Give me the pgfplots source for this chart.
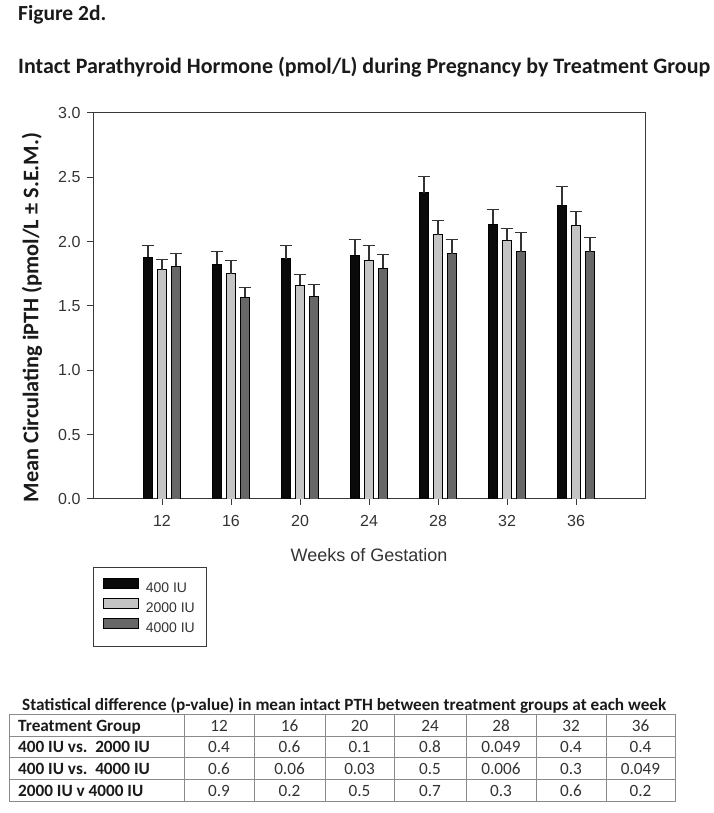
\documentclass[border=0pt]{standalone}
\usepackage{fontspec}
\setmainfont{Carlito}
\newfontfamily\arial{Liberation Sans}
\usepackage{pgfplots}
\usepackage{pgfplotstable}
\pgfplotsset{compat=1.18}

\definecolor{cA}{HTML}{0A0A0A}
\definecolor{cB}{HTML}{C4C4C4}
\definecolor{cC}{HTML}{676767}
\definecolor{axisgray}{HTML}{3A3A3A}
\definecolor{labelgray}{HTML}{333333}
\definecolor{errgray}{HTML}{333333}
\definecolor{tablegray}{HTML}{8A8A8A}
\definecolor{titlecol}{HTML}{1A1A1A}

\pgfplotsset{barleg/.style={legend image code/.code={\draw[##1] (0pt,0pt) rectangle (35pt,10pt);}}}

\pgfplotstableread{
w m e
12 1.880 0.093
16 1.823 0.101
20 1.869 0.099
24 1.895 0.122
28 2.380 0.125
32 2.134 0.117
36 2.284 0.148
}\dataA
\pgfplotstableread{
w m e
12 1.781 0.083
16 1.750 0.101
20 1.662 0.080
24 1.857 0.111
28 2.054 0.111
32 2.010 0.095
36 2.126 0.109
}\dataB
\pgfplotstableread{
w m e
12 1.807 0.101
16 1.569 0.077
20 1.574 0.096
24 1.792 0.109
28 1.906 0.111
32 1.921 0.153
36 1.921 0.112
}\dataC

\newcommand\cellfont{\fontsize{17.2}{20}\selectfont}
\newcommand\cell[3]{\node[anchor=base, inner sep=0pt, font=\cellfont, text=labelgray] at (#1,#2) {#3};}
\newcommand\rowhead[2]{\node[anchor=base west, inner sep=0pt, font=\bfseries\cellfont, text=titlecol] at (18,#1) {#2};}

\begin{document}
\begin{tikzpicture}[x=1pt,y=1pt]
\useasboundingbox (0,0) rectangle (714,813);
\node[anchor=base west, inner sep=0pt, font=\bfseries\fontsize{21.5}{24}\selectfont, text=titlecol] at (18,792.3) {Figure 2d.};
\node[anchor=base west, inner sep=0pt, font=\bfseries\fontsize{22}{25}\selectfont, text=titlecol] at (18,739) {Intact Parathyroid Hormone (pmol/L) during Pregnancy by Treatment Group};

\begin{axis}[
  at={(93pt,314pt)}, anchor=south west,
  scale only axis, width=552pt, height=386pt,
  xmin=8, xmax=40, ymin=0, ymax=3,
  xtick={12,16,20,24,28,32,36},
  ytick={0,0.5,1,1.5,2,2.5,3},
  ybar, bar width=9pt,
  tick align=outside, xtick pos=bottom, ytick pos=left,
  major tick length=6pt,
  axis line style={draw=axisgray, line width=1pt},
  every tick/.style={draw=axisgray, line width=1pt},
  tick label style={font=\arial\fontsize{16}{18}\selectfont, text=labelgray},
  /pgf/number format/assume math mode=true,
  y tick label style={xshift=-3pt, /pgf/number format/.cd, fixed, fixed zerofill, precision=1, /tikz/.cd},
  x tick label style={yshift=-7pt},
  xlabel={Weeks of Gestation},
  xlabel style={font=\arial\fontsize{18}{21}\selectfont, text=labelgray, at={(axis description cs:0.5,-0.145)}, anchor=center},
  ylabel={Mean Circulating iPTH (pmol/L ± S.E.M.)},
  ylabel style={font=\bfseries\fontsize{22.3}{25}\selectfont, text=titlecol, at={(axis description cs:-0.1105,0.47)}, anchor=center},
  legend style={at={(0,-0.176)}, anchor=north west, draw=axisgray, line width=1pt,
    font=\arial\fontsize{14}{16}\selectfont, text=labelgray,
    inner xsep=9.5pt, inner ysep=11pt, row sep=1.5pt,
    /tikz/every odd column/.append style={column sep=5pt}},
  legend cell align=left,
]
\addplot[fill=cA, draw=black, line width=0.8pt, bar shift=-14pt, barleg,
  error bars/.cd, y dir=plus, y explicit,
  error bar style={line width=1.1pt, draw=errgray},
  error mark options={rotate=90, line width=1.1pt, draw=errgray, mark size=6.3pt}]
  table[x=w, y=m, y error=e] {\dataA};
\addlegendentry{400 IU}
\addplot[fill=cB, draw=black, line width=0.8pt, bar shift=0pt, barleg,
  error bars/.cd, y dir=plus, y explicit,
  error bar style={line width=1.1pt, draw=errgray},
  error mark options={rotate=90, line width=1.1pt, draw=errgray, mark size=6.3pt}]
  table[x=w, y=m, y error=e] {\dataB};
\addlegendentry{2000 IU}
\addplot[fill=cC, draw=black, line width=0.8pt, bar shift=14pt, barleg,
  error bars/.cd, y dir=plus, y explicit,
  error bar style={line width=1.1pt, draw=errgray},
  error mark options={rotate=90, line width=1.1pt, draw=errgray, mark size=6.3pt}]
  table[x=w, y=m, y error=e] {\dataC};
\addlegendentry{4000 IU}
\end{axis}

% p-value table
\node[anchor=base west, inner sep=0pt, font=\bfseries\cellfont, text=titlecol] at (22,102.5) {Statistical difference (p-value) in mean intact PTH between treatment groups at each week};
\draw[tablegray, line width=1pt] (9,11) rectangle (675,98);
\foreach \yy in {76,55,33} \draw[tablegray, line width=1pt] (9,\yy) -- (675,\yy);
\foreach \xx in {184,254,325,394,466,536,606} \draw[tablegray, line width=1pt] (\xx,11) -- (\xx,98);

\rowhead{81.5}{Treatment Group}
\cell{219}{81.5}{12}\cell{289.5}{81.5}{16}\cell{359.5}{81.5}{20}\cell{430}{81.5}{24}\cell{501}{81.5}{28}\cell{571}{81.5}{32}\cell{640.5}{81.5}{36}

\rowhead{60}{400 IU vs.\ \ 2000 IU}
\cell{219}{60}{0.4}\cell{289.5}{60}{0.6}\cell{359.5}{60}{0.1}\cell{430}{60}{0.8}\cell{501}{60}{0.049}\cell{571}{60}{0.4}\cell{640.5}{60}{0.4}

\rowhead{38.5}{400 IU vs.\ \ 4000 IU}
\cell{219}{38.5}{0.6}\cell{289.5}{38.5}{0.06}\cell{359.5}{38.5}{0.03}\cell{430}{38.5}{0.5}\cell{501}{38.5}{0.006}\cell{571}{38.5}{0.3}\cell{640.5}{38.5}{0.049}

\rowhead{16.5}{2000 IU v 4000 IU}
\cell{219}{16.5}{0.9}\cell{289.5}{16.5}{0.2}\cell{359.5}{16.5}{0.5}\cell{430}{16.5}{0.7}\cell{501}{16.5}{0.3}\cell{571}{16.5}{0.6}\cell{640.5}{16.5}{0.2}
\end{tikzpicture}
\end{document}
